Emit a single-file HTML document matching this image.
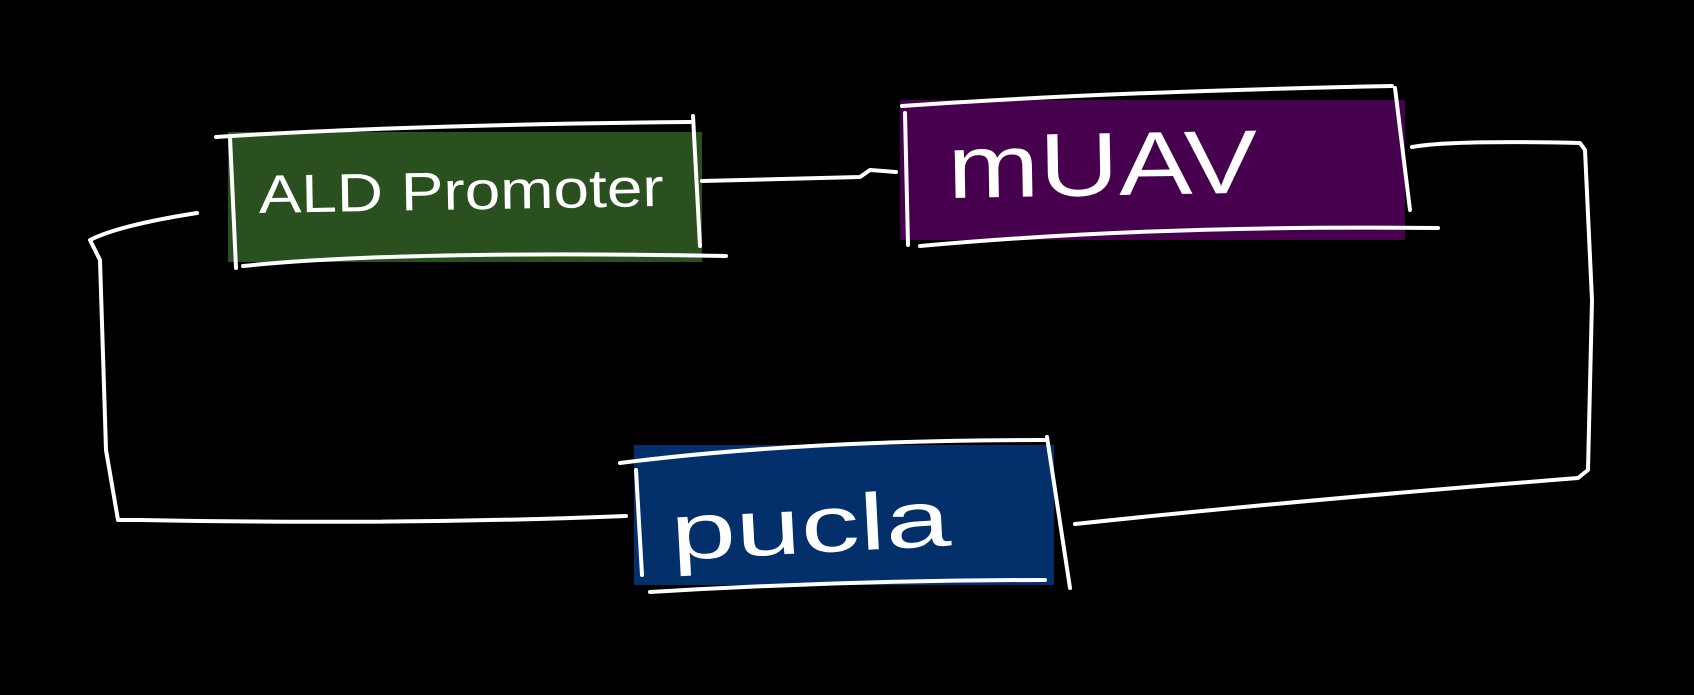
<!DOCTYPE html>
<html><head><style>
html,body{margin:0;padding:0;background:#000;}
svg{display:block}
text{font-family:"Liberation Sans",sans-serif;fill:#fff}
</style></head><body>
<svg width="1694" height="695" viewBox="0 0 1694 695" xmlns="http://www.w3.org/2000/svg">
<rect width="1694" height="695" fill="#000"/>
<g stroke="#fff" stroke-width="4" fill="none" stroke-linecap="round" stroke-linejoin="round">
<rect x="228" y="132" width="474" height="130" fill="#2a5020" stroke="none"/>
<path d="M216 137 Q400 125 690 122"/>
<path d="M230 137 L236 268"/>
<path d="M693 116 L700 246"/>
<path d="M243 266 Q400 250 726 256"/>
<rect x="900" y="100" width="505" height="140" fill="#46004e" stroke="none"/>
<path d="M902 106 Q1100 92 1392 86"/>
<path d="M905 113 L908 245"/>
<path d="M1395 88 L1410 210"/>
<path d="M920 246 Q1150 225 1438 228"/>
<rect x="634" y="445" width="420" height="140" fill="#03306b" stroke="none"/>
<path d="M620 463 Q800 440 1045 440"/>
<path d="M636 470 L642 575"/>
<path d="M1047 437 L1070 588"/>
<path d="M650 592 Q850 580 1045 580"/>
<path d="M702 181 L860 177 L870 170 L896 172"/>
<path d="M1412 147 Q1450 140 1580 143 L1585 150 L1592 300 L1588 470 L1578 478 Q1300 500 1075 524"/>
<path d="M197 213 Q120 225 90 240 L100 260 L106 450 L118 520 L140 520 Q400 525 626 516"/>
</g>
<text x="259" y="213" font-size="54" textLength="405" lengthAdjust="spacingAndGlyphs" transform="rotate(-1 259 213)">ALD Promoter</text>
<text x="948" y="198" font-size="90" textLength="310" lengthAdjust="spacingAndGlyphs" transform="rotate(-1 948 198)">mUAV</text>
<text x="672" y="560" font-size="80" textLength="280" lengthAdjust="spacingAndGlyphs" transform="rotate(-3 672 560)">pucla</text>
</svg>
</body></html>
